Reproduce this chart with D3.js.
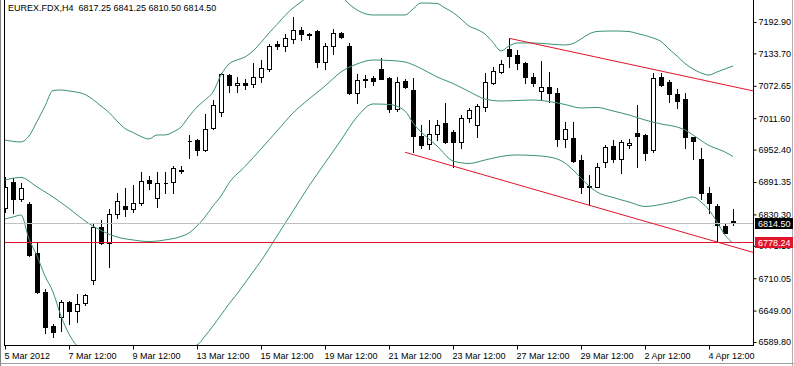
<!DOCTYPE html>
<html>
<head>
<meta charset="utf-8">
<script src="https://cdn.jsdelivr.net/npm/d3@7"></script>
<style>
body { margin: 0; background: #fff; }
svg { display: block; font-family: "Liberation Sans", Arial, sans-serif; }
.axis text { font-size: 9px; fill: #000; }
</style>
</head>
<body>
<svg id="chart" width="794" height="366"></svg>
<script>

const SYMBOL = 'EUREX.FDX';
const TIMEFRAME = 'H4';

// H4 bars, oldest first
const barOpen = [6842.4, 6891.9, 6859.3, 6849.9, 6757.0, 6683.5, 6620.0, 6637.5, 6664.6, 6647.7,
	6662.7, 6706.7, 6806.0, 6777.0, 6830.5, 6846.1, 6839.9, 6851.2, 6895.2, 6860.6,
	6888.9, 6891.4, 6913.0, 6968.6, 6970.5, 6951.7, 6992.6, 7023.9, 7093.0, 7074.2,
	7078.5, 7076.1, 7088.7, 7103.8, 7150.5, 7147.7, 7160.3, 7177.8, 7170.3, 7176.5,
	7118.1, 7147.7, 7172.8, 7147.7, 7059.7, 7084.9, 7086.8, 7103.8, 7086.8, 7028.4,
	7082.3, 7064.8, 6978.1, 6963.0, 6981.9, 7002.0, 6986.2, 6967.3, 7011.4, 6999.1,
	7032.2, 7078.5, 7099.3, 7141.5, 7130.7, 7115.1, 7089.8, 7063.5, 7071.0, 7059.7,
	6971.9, 6973.7, 6932.8, 6883.3, 6882.5, 6929.6, 6959.2, 6934.7, 6961.1, 6984.3,
	6980.0, 6951.7, 7089.8, 7080.4, 7057.2, 7047.2, 6975.6, 6934.1, 6870.1, 6846.1,
	6809.0, 6817.25];
const barHigh = [6900.8, 6899.0, 6889.5, 6853.7, 6775.8, 6689.7, 6623.8, 6669.0, 6667.1, 6680.3,
	6680.3, 6813.5, 6819.8, 6839.9, 6871.2, 6879.5, 6885.7, 6910.8, 6902.7, 6910.8,
	6910.2, 6921.5, 6921.5, 6980.0, 6972.4, 7019.5, 7045.9, 7096.3, 7094.4, 7089.8,
	7084.9, 7115.1, 7121.3, 7150.9, 7157.7, 7170.3, 7202.9, 7184.1, 7171.3, 7177.8,
	7152.8, 7179.2, 7174.1, 7152.8, 7094.9, 7093.0, 7091.2, 7124.5, 7089.3, 7088.7,
	7084.9, 7086.8, 6999.1, 7008.2, 7008.2, 7039.7, 6989.4, 7017.6, 7030.3, 7038.4,
	7096.3, 7108.7, 7121.3, 7162.2, 7140.2, 7117.5, 7097.4, 7120.0, 7099.3, 7068.0,
	7005.0, 7005.0, 6942.3, 6904.6, 6926.6, 6961.1, 6970.5, 6970.5, 6971.9, 7036.5,
	6981.9, 7096.3, 7097.4, 7083.6, 7066.1, 7059.1, 6977.1, 6954.9, 6881.4, 6849.9,
	6814.7, 6841.25];
const barLow = [6834.8, 6833.0, 6856.1, 6751.9, 6681.6, 6606.2, 6599.8, 6611.1, 6623.8, 6628.1,
	6660.1, 6699.1, 6774.5, 6730.6, 6823.0, 6827.3, 6835.4, 6848.0, 6877.6, 6844.8,
	6870.1, 6870.1, 6907.4, 6936.0, 6942.3, 6950.4, 6990.7, 7015.8, 7061.6, 7061.6,
	7066.7, 7069.9, 7080.4, 7101.1, 7142.6, 7138.8, 7153.9, 7159.0, 7160.3, 7107.6,
	7103.8, 7132.6, 7162.2, 7057.2, 7040.8, 7071.0, 7074.2, 7084.6, 7023.9, 7025.2,
	7068.5, 6948.5, 6954.9, 6953.0, 6970.5, 6965.4, 6919.1, 6954.9, 7005.0, 6976.8,
	7025.8, 7076.1, 7096.3, 7108.7, 7103.8, 7078.5, 7072.3, 7045.9, 7042.7, 6959.2,
	6957.9, 6929.1, 6870.1, 6849.9, 6881.4, 6920.2, 6929.6, 6907.8, 6954.9, 6919.1,
	6932.8, 6948.5, 7072.3, 7042.7, 7030.3, 6954.9, 6934.1, 6858.8, 6832.4, 6778.24,
	6794.3, 6810.50];
const barClose = [6882.0, 6858.8, 6880.1, 6753.8, 6684.6, 6617.5, 6609.2, 6665.8, 6647.7, 6660.8,
	6677.8, 6807.1, 6777.0, 6830.5, 6856.1, 6839.9, 6851.2, 6893.8, 6888.9, 6888.9,
	6890.0, 6917.8, 6914.0, 6969.2, 6951.7, 6990.7, 7035.9, 7094.4, 7074.2, 7078.5,
	7074.2, 7088.7, 7105.7, 7147.7, 7148.6, 7162.2, 7177.8, 7170.3, 7169.0, 7118.1,
	7147.7, 7172.8, 7164.1, 7059.7, 7083.6, 7084.2, 7081.7, 7086.1, 7028.4, 7080.4,
	7071.0, 6978.1, 6961.1, 6981.9, 6999.1, 6967.3, 6967.3, 7011.4, 7027.1, 7034.6,
	7080.4, 7101.1, 7113.8, 7128.9, 7115.1, 7089.8, 7077.4, 7071.0, 7059.7, 6971.9,
	6990.7, 6931.5, 6882.5, 6882.0, 6919.1, 6956.8, 6934.7, 6967.3, 6965.4, 6978.1,
	6945.5, 7086.8, 7074.2, 7057.2, 7044.6, 6975.6, 6969.2, 6870.1, 6851.2, 6810.3,
	6795.8, 6814.50];

// Bollinger bands, [bar, price]
const bandUpper = [[0, 6970.5], [2, 6966.8], [3, 6978.1], [4, 7005.4], [5, 7034.6], [6, 7063.8],
	[7, 7064.8], [8, 7062.9], [10, 7056.3], [12, 7034.6], [13, 7022.4], [14, 7006.4], [15, 6992.2],
	[16, 6984.7], [17, 6977.1], [18, 6972.4], [19, 6980.0], [20, 6980.0], [21, 6985.6], [22, 6995.0],
	[23, 7014.8], [24, 7032.7], [25, 7045.9], [26, 7061.0], [27, 7093.0], [28, 7113.8], [29, 7121.3],
	[30, 7127.0], [31, 7138.3], [32, 7154.3], [33, 7172.2], [34, 7188.2], [35, 7205.2], [36, 7219.3],
	[37, 7230.6], [38, 7241.9], [40, 7249.5], [42, 7241.9], [43, 7226.9], [44, 7215.6], [46, 7206.1],
	[48, 7206.1], [50, 7206.1], [51, 7217.4], [52, 7228.7], [54, 7227.8], [55, 7219.3], [56, 7210.8],
	[57, 7198.6], [58, 7185.4], [59, 7178.8], [60, 7170.3], [61, 7154.3], [62, 7138.3], [63, 7147.7],
	[64, 7153.4], [66, 7153.4], [68, 7151.5], [70, 7149.6], [71, 7152.4], [72, 7160.9], [73, 7170.3],
	[74, 7175.0], [76, 7176.0], [78, 7175.0], [79, 7171.3], [81, 7162.8], [82, 7156.2], [83, 7142.0],
	[84, 7128.9], [85, 7114.7], [86, 7104.4], [87, 7096.8], [88, 7093.0], [89, 7098.7], [90, 7104.4],
	[91, 7110.0]];
const bandMiddle = [[0, 6895.2], [2, 6899.9], [4, 6882.0], [6, 6863.1], [8, 6841.4], [10, 6817.9],
	[12, 6800.0], [14, 6787.7], [16, 6782.1], [18, 6779.2], [20, 6782.1], [22, 6788.7], [23, 6795.3],
	[24, 6808.5], [25, 6825.4], [26, 6846.2], [27, 6865.0], [28, 6889.5], [30, 6920.6], [32, 6953.6],
	[34, 6987.5], [36, 7021.4], [38, 7047.8], [40, 7072.3], [42, 7098.7], [44, 7113.8], [46, 7121.3],
	[48, 7120.4], [50, 7117.5], [52, 7105.3], [54, 7089.3], [56, 7077.0], [58, 7061.9], [60, 7047.8],
	[62, 7044.0], [64, 7045.0], [66, 7045.9], [68, 7043.1], [70, 7037.4], [72, 7030.9], [74, 7031.8],
	[76, 7025.2], [78, 7017.7], [80, 7008.2], [82, 7000.7], [84, 6995.0], [85, 6989.4], [86, 6980.0],
	[88, 6960.2], [90, 6947.9], [91, 6939.4]];
const bandLower = [[0, 6821.7], [1, 6825.4], [2, 6829.2], [3, 6784.0], [4, 6751.9], [5, 6714.2],
	[6, 6684.1], [7, 6638.8], [8, 6604.9], [9, 6582.3], [10, 6571.0], [12, 6561.6], [14, 6559.7],
	[16, 6565.3], [18, 6571.0], [20, 6574.8], [22, 6578.5], [24, 6584.2], [25, 6601.1], [26, 6620.0],
	[27, 6640.7], [28, 6661.5], [29, 6680.3], [30, 6701.0], [31, 6721.8], [32, 6742.5], [34, 6789.6],
	[36, 6836.7], [38, 6883.8], [40, 6927.2], [42, 6970.5], [44, 7013.9], [46, 7038.4], [48, 7037.5],
	[50, 7025.2], [51, 7002.6], [52, 6985.6], [53, 6972.4], [54, 6959.2], [56, 6931.0], [58, 6926.3],
	[60, 6932.8], [62, 6939.4], [64, 6942.3], [66, 6941.3], [68, 6938.5], [70, 6927.2], [71, 6914.0],
	[72, 6898.9], [73, 6883.8], [74, 6872.5], [76, 6862.2], [78, 6853.7], [80, 6845.2], [82, 6849.0],
	[84, 6855.6], [86, 6863.1], [87, 6853.7], [88, 6838.6], [89, 6816.0], [90, 6791.5], [91, 6776.4]];

// trend channel (two anchors each, drawn as rays) and the horizontal level
const trendUpper = [[63, 7162.2], [91, 7071.2]];
const trendLower = [[50, 6947.4], [89, 6778.24]];
const levelPrice = 6778.24;

const priceTicks = [7192.90, 7133.70, 7072.65, 7011.60, 6952.40, 6891.35, 6830.30, 6771.10, 6710.05, 6649.00, 6589.80];
const timeTickBars = [0, 8, 16, 24, 32, 40, 48, 56, 64, 72, 80, 88];
const timeTickLabels = ['5 Mar 2012', '7 Mar 12:00', '9 Mar 12:00', '13 Mar 12:00', '15 Mar 12:00', '19 Mar 12:00',
	'21 Mar 12:00', '23 Mar 12:00', '27 Mar 12:00', '29 Mar 12:00', '2 Apr 12:00', '4 Apr 12:00'];

const BAND_COLOR = '#3d9470';
const RED = '#e0142a';

const svg = d3.select('#chart');
const plot = {left: 4, right: 753, top: 0, bottom: 345};

// 8px per bar
const x = d3.scaleLinear().domain([0, 91]).range([5, 733]);
const y = d3.scaleLinear().domain([6589.80, 7192.90]).range([342, 22]);

svg.append('defs').append('clipPath').attr('id', 'plot-clip')
	.append('rect')
	.attr('x', plot.left + 1).attr('y', plot.top)
	.attr('width', plot.right - plot.left - 1).attr('height', plot.bottom - plot.top);

const candles = barOpen.map((o, i) => ({i: i, o: o, h: barHigh[i], l: barLow[i], c: barClose[i]}));
const last = candles[candles.length - 1];

const chart_area = svg.append('g').attr('clip-path', 'url(#plot-clip)');

// wicks
chart_area.append('g')
	.selectAll('line')
	.data(candles)
	.enter()
	.append('line')
		.attr('x1', d => Math.round(x(d.i)) + 0.5)
		.attr('x2', d => Math.round(x(d.i)) + 0.5)
		.attr('y1', d => Math.round(y(d.h)))
		.attr('y2', d => Math.round(y(d.l)) + 1)
		.attr('stroke', '#000')
		.attr('shape-rendering', 'crispEdges');

// bodies (path so that doji still show as a dash)
chart_area.append('g')
	.selectAll('path')
	.data(candles)
	.enter()
	.append('path')
		.attr('d', d => {
			const cx = Math.round(x(d.i));
			const y0 = Math.round(y(Math.max(d.o, d.c))) + 0.5;
			const y1 = Math.round(y(Math.min(d.o, d.c))) + 0.5;
			return `M${cx - 1.5},${y0}H${cx + 2.5}V${y1}H${cx - 1.5}Z`;
		})
		.attr('fill', d => d.c >= d.o ? '#fff' : '#000')
		.attr('stroke', '#000')
		.attr('stroke-width', 1)
		.attr('shape-rendering', 'crispEdges');

// bollinger bands
const band_line = d3.line()
	.x(d => x(d[0]))
	.y(d => y(d[1]))
	.curve(d3.curveMonotoneX);

chart_area.append('g')
	.selectAll('path')
	.data([bandUpper, bandMiddle, bandLower])
	.enter()
	.append('path')
		.attr('d', band_line)
		.attr('fill', 'none')
		.attr('stroke', BAND_COLOR)
		.attr('stroke-width', 1);

// bid line + horizontal level
chart_area.append('line')
	.attr('x1', plot.left).attr('x2', plot.right)
	.attr('y1', Math.round(y(last.c)) + 0.5).attr('y2', Math.round(y(last.c)) + 0.5)
	.attr('stroke', '#c0c0c0')
	.attr('shape-rendering', 'crispEdges');

chart_area.append('line')
	.attr('x1', plot.left).attr('x2', plot.right)
	.attr('y1', Math.round(y(levelPrice)) + 0.5).attr('y2', Math.round(y(levelPrice)) + 0.5)
	.attr('stroke', RED)
	.attr('shape-rendering', 'crispEdges');

// trend lines, extended to the right edge
const right_bar = x.invert(plot.right);
const ray = (pts) => {
	const slope = (pts[1][1] - pts[0][1]) / (pts[1][0] - pts[0][0]);
	return [pts[0], [right_bar, pts[0][1] + slope * (right_bar - pts[0][0])]];
};

chart_area.append('g')
	.selectAll('path')
	.data([ray(trendUpper), ray(trendLower)])
	.enter()
	.append('path')
		.attr('d', d3.line().x(d => x(d[0])).y(d => y(d[1])))
		.attr('fill', 'none')
		.attr('stroke', RED)
		.attr('stroke-width', 1);

// price axis
const y_axis = svg.append('g')
	.attr('class', 'axis')
	.attr('transform', `translate(${plot.right + 0.5},0)`)
	.call(d3.axisRight(y)
		.tickValues(priceTicks)
		.tickFormat(d3.format('.2f'))
		.tickSize(3)
		.tickSizeOuter(0)
		.tickPadding(2));
y_axis.select('.domain').remove();
y_axis.selectAll('.tick line').attr('stroke', '#000');

// time axis
const x_axis = svg.append('g')
	.attr('class', 'axis')
	.attr('transform', `translate(0,${plot.bottom + 0.5})`)
	.call(d3.axisBottom(x)
		.tickValues(timeTickBars)
		.tickFormat((d, k) => timeTickLabels[k])
		.tickSize(4)
		.tickSizeOuter(0)
		.tickPadding(3));
x_axis.select('.domain').remove();
x_axis.selectAll('.tick line').attr('stroke', '#000');
x_axis.selectAll('.tick text').attr('text-anchor', 'start').attr('dx', -1);

// frame
svg.append('line')
	.attr('x1', plot.left + 0.5).attr('x2', plot.left + 0.5)
	.attr('y1', 0).attr('y2', plot.bottom + 1)
	.attr('stroke', '#000');
svg.append('line')
	.attr('x1', plot.left).attr('x2', plot.right + 1)
	.attr('y1', plot.bottom + 0.5).attr('y2', plot.bottom + 0.5)
	.attr('stroke', '#000');
svg.append('line')
	.attr('x1', plot.right + 0.5).attr('x2', plot.right + 0.5)
	.attr('y1', 0).attr('y2', plot.bottom + 1)
	.attr('stroke', '#000');
svg.append('line')
	.attr('x1', 0.5).attr('x2', 0.5).attr('y1', 0).attr('y2', 366)
	.attr('stroke', '#808080');
svg.append('line')
	.attr('x1', 792.5).attr('x2', 792.5).attr('y1', 0).attr('y2', 366)
	.attr('stroke', '#b0b0b0');
svg.append('line')
	.attr('x1', 0).attr('x2', 794).attr('y1', 363.5).attr('y2', 363.5)
	.attr('stroke', '#a0a0a0');

// price boxes on the axis
const boxes = [
	{price: last.c, fill: '#000'},
	{price: levelPrice, fill: RED}
];
const box_g = svg.append('g').selectAll('g')
	.data(boxes)
	.enter()
	.append('g')
		.attr('transform', d => `translate(${plot.right + 2},${Math.round(y(d.price))})`);
box_g.append('rect')
	.attr('x', 0).attr('y', -5)
	.attr('width', 38).attr('height', 11)
	.attr('fill', d => d.fill);
box_g.append('text')
	.attr('x', 3).attr('y', 0.5)
	.attr('dy', '0.35em')
	.attr('font-size', 9)
	.attr('fill', '#fff')
	.text(d => d.price.toFixed(2));

// header
svg.append('text')
	.attr('x', 8).attr('y', 7.5)
	.attr('dy', '0.35em')
	.attr('font-size', 9)
	.attr('fill', '#000')
	.text(`${SYMBOL},${TIMEFRAME}  ${last.o.toFixed(2)} ${last.h.toFixed(2)} ${last.l.toFixed(2)} ${last.c.toFixed(2)}`)
	.attr('xml:space', 'preserve')
	.style('white-space', 'pre');

</script>
</body>
</html>
